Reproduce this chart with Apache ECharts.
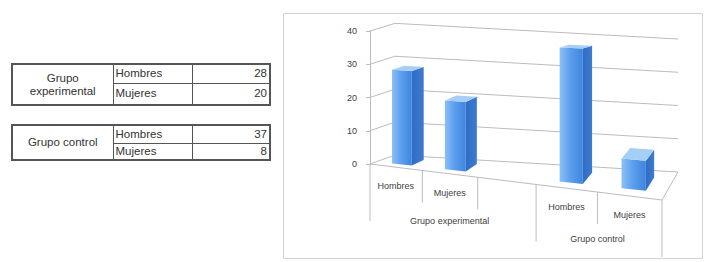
<!DOCTYPE html>
<html>
<head>
<meta charset="utf-8">
<script src="https://cdn.jsdelivr.net/npm/echarts@6/dist/echarts.min.js"></script>
<style>
html, body { margin: 0; padding: 0; background: #fff; }
#wrap { position: relative; width: 709px; height: 262px; overflow: hidden; }
#chart { position: absolute; left: 0; top: 0; width: 709px; height: 262px; }
table.t { position: absolute; left: 11px; width: 258px; table-layout: fixed; border-collapse: collapse; border: 2px solid #555;
  font-family: "Liberation Sans", Arial, sans-serif; font-size: 11.5px; color: #333; z-index: 2; background: #fff; }
table.t td { border: 1px solid #555; padding: 0 2px; line-height: 13px; overflow: hidden; white-space: nowrap; }
table.t td.g { text-align: center; padding: 0 10px; white-space: normal; }
table.t td.n { text-align: right; }
</style>
</head>
<body>
<div id="wrap">
  <div id="chart"></div>
</div>
<script>
// datos
var categorias = ['Hombres', 'Mujeres', '', 'Hombres', 'Mujeres'];
var valores = [28, 20, null, 37, 8];
var grupos = ['Grupo experimental', 'Grupo control'];
var grupoInicio = [0, 3];
var grupoFin = [3, 5];
var yTicks = [0, 10, 20, 30, 40];

// tablas de la izquierda
var tablaTop = [63, 124];
var tablaAlto = [[19, 22], [18, 17]];
for (var g = 0; g < grupos.length; g++) {
  var filas = [];
  for (var i = grupoInicio[g]; i < grupoFin[g]; i++) {
    if (valores[i] != null) filas.push(i);
  }
  var htm = '<colgroup><col style="width:101px"><col style="width:79px"><col style="width:78px"></colgroup>';
  for (var k = 0; k < filas.length; k++) {
    htm += '<tr style="height:' + tablaAlto[g][k] + 'px">';
    if (k == 0) htm += '<td class="g" rowspan="' + filas.length + '">' + grupos[g] + '</td>';
    htm += '<td class="c">' + categorias[filas[k]] + '</td><td class="n">' + valores[filas[k]] + '</td></tr>';
  }
  var t = document.createElement('table');
  t.className = 't';
  t.style.top = tablaTop[g] + 'px';
  t.innerHTML = htm;
  document.getElementById('wrap').appendChild(t);
}

// perspectiva del grafico 3D
var vista = {
  caidaDer: 36,
  fondoIzq: [25, -9],
  fondoDer: [16, -28],
  altoFrenteDer: 1.19,
  altoFondoIzq: 0.99,
  altoFondoDer: 1.0,
  curva: 0.13,
  prof: [0.25, 0.75],
  anchoBarra: 0.38
};

function proyectar(cs, u, w, v) {
  var uu = u - vista.curva * u * (1 - u);
  var fl = [cs.x, cs.y + cs.height];
  var fr = [cs.x + cs.width, cs.y + cs.height + vista.caidaDer];
  var bl = [fl[0] + vista.fondoIzq[0], fl[1] + vista.fondoIzq[1]];
  var br = [fr[0] + vista.fondoDer[0], fr[1] + vista.fondoDer[1]];
  var f = [fl[0] + (fr[0] - fl[0]) * uu, fl[1] + (fr[1] - fl[1]) * uu];
  var b = [bl[0] + (br[0] - bl[0]) * uu, bl[1] + (br[1] - bl[1]) * uu];
  var x = f[0] + (b[0] - f[0]) * w;
  var y = f[1] + (b[1] - f[1]) * w;
  var hf = cs.height * (1 + (vista.altoFrenteDer - 1) * uu);
  var hb = cs.height * (vista.altoFondoIzq + (vista.altoFondoDer - vista.altoFondoIzq) * uu);
  var h = hf + (hb - hf) * w;
  return [x, y - v * h];
}

var fuente = '"Liberation Sans", Arial, sans-serif';
var colorLinea = '#bcbcbc';
var colorTexto = '#404040';

function linea(p1, p2, color) {
  return { type: 'line', shape: { x1: p1[0], y1: p1[1], x2: p2[0], y2: p2[1] },
    style: { stroke: color || colorLinea, lineWidth: 1 } };
}

// paredes y suelo
function renderParedes(params, api) {
  var cs = params.coordSys;
  var c = api.coord([0, api.value(1)]);
  var v = (cs.y + cs.height - c[1]) / cs.height;
  var hijos = [
    linea(proyectar(cs, 0, 0, v), proyectar(cs, 0, 1, v)),
    linea(proyectar(cs, 0, 1, v), proyectar(cs, 1, 1, v))
  ];
  if (api.value(1) == 0) {
    hijos.push(linea(proyectar(cs, 0, 0, 0), proyectar(cs, 1, 0, 0)));
    hijos.push(linea(proyectar(cs, 1, 0, 0), proyectar(cs, 1, 1, 0)));
  }
  return { type: 'group', children: hijos };
}

// eje de categorias (dos niveles)
function renderCategorias(params, api) {
  var cs = params.coordSys;
  var i = api.value(0);
  var c = api.coord([i, 0]);
  var band = api.size([1, 0])[0];
  var uc = (c[0] - cs.x) / cs.width;
  var du = band / cs.width / 2;
  var hijos = [];
  var bordes = [i];
  if (i == categorias.length - 1) bordes.push(i + 1);
  bordes.forEach(function (b) {
    var u = uc + (b - i) * du * 2 - du;
    var p = proyectar(cs, u, 0, 0);
    var largo = (grupoInicio.indexOf(b) >= 0 || b == categorias.length) ? 57 : 32;
    hijos.push(linea(p, [p[0], p[1] + largo]));
  });
  var pc = proyectar(cs, uc, 0, 0);
  hijos.push({ type: 'text', x: pc[0], y: pc[1] + 19,
    style: { text: categorias[i], fill: colorTexto, fontSize: 9, fontFamily: fuente, align: 'center', verticalAlign: 'middle' } });
  return { type: 'group', children: hijos };
}

function renderGrupos(params, api) {
  var cs = params.coordSys;
  var a = api.coord([api.value(0), 0]);
  var b = api.coord([api.value(1), 0]);
  var u = ((a[0] + b[0]) / 2 - cs.x) / cs.width;
  var p = proyectar(cs, u, 0, 0);
  return { type: 'text', x: p[0], y: p[1] + 47,
    style: { text: grupos[params.dataIndex], fill: colorTexto, fontSize: 9, fontFamily: fuente, align: 'center', verticalAlign: 'middle' } };
}

// barras 3D
function renderBarras(params, api) {
  var cs = params.coordSys;
  var i = api.value(0);
  var c = api.coord([i, api.value(1)]);
  var c0 = api.coord([i, 0]);
  var band = api.size([1, 0])[0];
  var uc = (c[0] - cs.x) / cs.width;
  var du = band / cs.width * vista.anchoBarra / 2;
  var v = (c0[1] - c[1]) / cs.height;
  var u0 = uc - du, u1 = uc + du, w0 = vista.prof[0], w1 = vista.prof[1];
  var P = function (u, w, h) { return proyectar(cs, u, w, h); };
  return { type: 'group', children: [
    { type: 'polygon', shape: { points: [P(u1, w0, 0), P(u1, w1, 0), P(u1, w1, v), P(u1, w0, v)] },
      style: { fill: new echarts.graphic.LinearGradient(0, 0, 1, 0, [{ offset: 0, color: '#2f6cc6' }, { offset: 1, color: '#3d7ccf' }]) } },
    { type: 'polygon', shape: { points: [P(u0, w0, 0), P(u1, w0, 0), P(u1, w0, v), P(u0, w0, v)] },
      style: { fill: new echarts.graphic.LinearGradient(0, 0, 1, 0, [{ offset: 0, color: '#8bc0f6' }, { offset: 0.45, color: '#5d9fee' }, { offset: 1, color: '#3e85dd' }]) } },
    { type: 'polygon', shape: { points: [P(u0, w0, v), P(u1, w0, v), P(u1, w1, v), P(u0, w1, v)] },
      style: { fill: '#a6cff8' } }
  ] };
}

var datosBarras = [];
for (var i = 0; i < valores.length; i++) {
  if (valores[i] != null) datosBarras.push([i, valores[i]]);
}

var myChart = echarts.init(document.getElementById('chart'), null, { renderer: 'svg' });
myChart.setOption({
  backgroundColor: '#fff',
  animation: false,
  graphic: [{
    type: 'rect', shape: { x: 283.5, y: 13.5, width: 419, height: 245 },
    style: { fill: 'none', stroke: '#d2d2d2', lineWidth: 1 }, silent: true
  }],
  grid: { left: 370, top: 31, width: 292, height: 133, outerBoundsMode: 'none' },
  xAxis: { type: 'category', data: categorias, show: false },
  yAxis: {
    type: 'value', min: 0, max: 40, interval: 10,
    axisLine: { show: true, lineStyle: { color: colorLinea } },
    axisTick: { show: true, length: 4, lineStyle: { color: colorLinea } },
    splitLine: { show: false },
    axisLabel: { fontSize: 9, color: colorTexto, fontFamily: fuente, margin: 13 }
  },
  series: [
    { type: 'custom', renderItem: renderParedes, data: yTicks.map(function (t) { return [0, t]; }),
      encode: { x: 0, y: 1 }, clip: false, silent: true, z: 1 },
    { type: 'custom', renderItem: renderCategorias, data: categorias.map(function (c, i) { return [i, 0]; }),
      encode: { x: 0, y: 1 }, clip: false, silent: true, z: 1 },
    { type: 'custom', renderItem: renderGrupos, data: grupos.map(function (g, k) { return [grupoInicio[k], grupoFin[k] - 1]; }),
      encode: { x: [0, 1] }, clip: false, silent: true, z: 1 },
    { type: 'custom', renderItem: renderBarras, data: datosBarras,
      encode: { x: 0, y: 1 }, clip: false, silent: true, z: 2 }
  ]
});
</script>
</body>
</html>
